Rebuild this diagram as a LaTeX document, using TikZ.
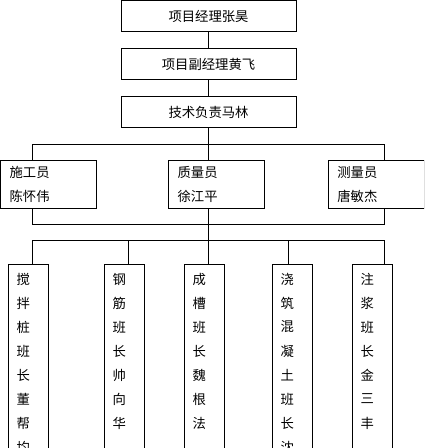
\documentclass[tikz,border=0pt]{standalone}
\usepackage{fontspec}
\setmainfont{Noto Sans CJK SC}
\tikzset{
  every node/.style={font=\fontsize{10}{18}\selectfont},
  leader/.style={draw, line width=0.75pt, minimum width=131.25pt, minimum height=23.25pt, inner sep=0pt},
  staff/.style={draw, line width=0.75pt, minimum width=72pt, minimum height=36pt, inner xsep=7pt, text width=58pt, align=left},
  crew/.style={draw, line width=0.75pt, anchor=north, minimum width=30pt, minimum height=150pt, inner sep=0pt},
  glyph/.style={inner sep=0pt},
}
\begin{document}
\begin{tikzpicture}[x=0.75pt,y=-0.75pt,line width=0.75pt]
        % 1 unit = 1 px of the 424x448 chart
        \clip (0,0) rectangle (424,448);
        \node[leader] (pm)   at (208.5,16.5)  {项目经理张昊};
        \node[leader] (dpm)  at (208.5,64.5)  {项目副经理黄飞};
        \node[leader] (tech) at (208.5,112.5) {技术负责马林};
        \draw (pm) -- (dpm);
        \draw (dpm) -- (tech);
        \node[staff] (sg) at (48.3,184.3)  {施工员\\陈怀伟};
        \node[staff] (zl) at (216.3,184.3) {质量员\\徐江平};
        \node[staff] (cl) at (376,184.3)   {测量员\\唐敏杰};
        \coordinate (tl) at (32.3,144.5);  \coordinate (tr) at (384.3,144.5);
        \coordinate (ml) at (32.3,224.3);  \coordinate (mr) at (384.3,224.3);
        \coordinate (bl) at (32.3,240.3);  \coordinate (br) at (384.3,240.3);
        \draw (tech.south) -- (tech.south |- zl.north);
        \draw (sg.north -| tl) -- (tl) -- (tr) -- (cl.north -| tr);
        \draw (sg.south -| ml) -- (ml) -- (mr) -- (cl.south -| mr);
        \draw (zl.south -| tech.south) -- (tech.south |- bl);
        \draw (bl) -- (br);
        \foreach \k/\x/\d/\txt in {1/28.3/32.3/{搅,拌,桩,班,长,董,帮,均},
                                   2/124.3/128.3/{钢,筋,班,长,帅,向,华},
                                   3/204.3/208.3/{成,槽,班,长,魏,根,法},
                                   4/292.3/288.3/{浇,筑,混,凝,土,班,长,沈},
                                   5/372.3/384.3/{注,浆,班,长,金,三,丰}}{
            \node[crew] (k\k) at (\x,264) {};
            \coordinate (d\k) at (\d,240.3);
            \draw (d\k) -- (d\k |- k\k.north);
            \foreach \ch [count=\i] in \txt
                \node[glyph] (k\k-\i) at (\x-5,255+24*\i) {\ch};
        }
    \end{tikzpicture}
\end{document}
